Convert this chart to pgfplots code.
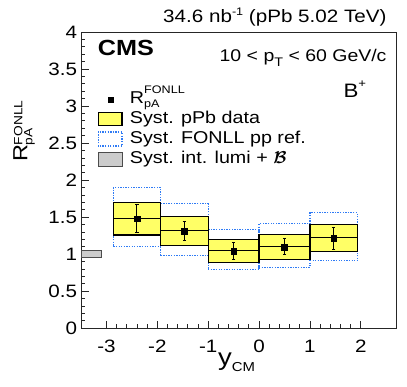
\documentclass[border=0pt]{standalone}
\usepackage{amsmath}
\usepackage{pgfplots}
\pgfplotsset{compat=1.18}
\usepackage{pgfplotstable}
\usepackage{fontspec}
\setmainfont{Liberation Sans}[FakeStretch=1.15]
\newfontfamily\lsans{Liberation Sans}[FakeStretch=1.15]
\definecolor{boxyellow}{HTML}{FFFF66}
\definecolor{fonllblue}{HTML}{2F7BF5}
\definecolor{lumigrey}{HTML}{CCCCCC}
\newcommand{\fs}[1]{\lsans\fontsize{#1}{#1}\selectfont}

% R_pA^FONLL per y_CM bin: centre, value, half width, stat +/-
\pgfplotstableread{
x       y      ex      eyp    eym
-2.4    1.48   0.465   0.19   0.18
-1.4675 1.315  0.4675  0.125  0.135
-0.5    1.045  0.5     0.112  0.115
0.5     1.10   0.5     0.107  0.105
1.4675  1.22   0.4675  0.14   0.15
}\rpa

\begin{document}
\begin{tikzpicture}[x=1bp,y=1bp]
\path[use as bounding box] (0,0) rectangle (407,387);
\begin{axis}[
  at={(81bp,58.7bp)}, anchor=south west,
  scale only axis, width=315.4bp, height=296.3bp,
  xmin=-3.5, xmax=2.7, ymin=0, ymax=4,
  xtick={-3,-2,-1,0,1,2}, ytick={0,0.5,...,4},
  minor x tick num=4, minor y tick num=4,
  tick align=inside, xtick pos=bottom, ytick pos=left,
  major tick length=7.5bp, minor tick length=3.8bp,
  axis line style={line width=0.8bp, black!85},
  tick style={line width=0.8bp, black!85},
  /pgf/number format/assume math mode=true,
  ticklabel style={font=\fs{18}, inner sep=0pt},
  yticklabel style={xshift=-3.7bp},
  xticklabel style={yshift=-11.2bp},
  legend style={at={(0.0529,0.801)}, anchor=north west, draw=none, fill=none,
    inner sep=0pt, outer sep=0pt, row sep=0pt, column sep=7.3bp,
    font=\fs{17.2}, cells={anchor=base west},
    nodes={inner sep=0pt, text height=13bp, text depth=6.8bp, font=\fs{17.2}}},
]
% FONLL pp reference systematics
\addplot[forget plot, fonllblue, line width=1.2bp, dash pattern=on 1.3bp off 1.3bp]
  coordinates {(-2.865,1.10) (-1.935,1.10) (-1.935,1.90) (-2.865,1.90)} -- cycle;
\addplot[forget plot, fonllblue, line width=1.2bp, dash pattern=on 1.3bp off 1.3bp]
  coordinates {(-1.935,0.98) (-1.0,0.98) (-1.0,1.68) (-1.935,1.68)} -- cycle;
\addplot[forget plot, fonllblue, line width=1.2bp, dash pattern=on 1.3bp off 1.3bp]
  coordinates {(-1.0,0.79) (0,0.79) (0,1.33) (-1.0,1.33)} -- cycle;
\addplot[forget plot, fonllblue, line width=1.2bp, dash pattern=on 1.3bp off 1.3bp]
  coordinates {(0,0.82) (1.0,0.82) (1.0,1.41) (0,1.41)} -- cycle;
\addplot[forget plot, fonllblue, line width=1.2bp, dash pattern=on 1.3bp off 1.3bp]
  coordinates {(1.0,0.91) (1.935,0.91) (1.935,1.56) (1.0,1.56)} -- cycle;
% pPb data systematics
\addplot[forget plot, draw=black, fill=boxyellow, line width=1.2bp]
  coordinates {(-2.865,1.26) (-1.935,1.26) (-1.935,1.70) (-2.865,1.70)} -- cycle;
\addplot[forget plot, draw=black, fill=boxyellow, line width=1.2bp]
  coordinates {(-1.935,1.12) (-1.0,1.12) (-1.0,1.51) (-1.935,1.51)} -- cycle;
\addplot[forget plot, draw=black, fill=boxyellow, line width=1.2bp]
  coordinates {(-1.0,0.89) (0,0.89) (0,1.20) (-1.0,1.20)} -- cycle;
\addplot[forget plot, draw=black, fill=boxyellow, line width=1.2bp]
  coordinates {(0,0.93) (1.0,0.93) (1.0,1.265) (0,1.265)} -- cycle;
\addplot[forget plot, draw=black, fill=boxyellow, line width=1.2bp]
  coordinates {(1.0,1.035) (1.935,1.035) (1.935,1.40) (1.0,1.40)} -- cycle;
% luminosity + branching fraction
\addplot[forget plot, draw=black!70, fill=lumigrey, line width=0.8bp]
  coordinates {(-3.5,0.953) (-3.1,0.953) (-3.1,1.047) (-3.5,1.047)} -- cycle;
% points with stat. errors
\addplot[forget plot, only marks, mark=square*, mark size=2.9bp, black,
  error bars/.cd, x dir=both, x explicit, y dir=both, y explicit,
  error bar style={line width=1bp, black},
  error mark options={rotate=90, black, mark size=1.7bp, line width=1bp}]
  table[x=x, y=y, x error=ex, y error plus=eyp, y error minus=eym] {\rpa};

\addlegendimage{legend image code/.code={\path[draw=none, fill=none] (0,-2bp) rectangle (25bp,11bp);
  \fill[black] (10.1bp,1.5bp) rectangle (15.4bp,6.8bp);}}
\addlegendentry{R\rlap{\raisebox{10bp}{\fs{11}FONLL}}\raisebox{-4bp}{\fs{11}pA}}
\addlegendimage{legend image code/.code={\draw[black, fill=boxyellow, line width=1.2bp]
  (0.6bp,-1.7bp) rectangle (24.4bp,11bp);}}
\addlegendentry{Syst. pPb data}
\addlegendimage{legend image code/.code={\draw[fonllblue, line width=1.2bp,
  dash pattern=on 1.3bp off 1.3bp] (0.6bp,-2.4bp) rectangle (24.4bp,11.6bp);}}
\addlegendentry{Syst. FONLL pp ref.}
\addlegendimage{legend image code/.code={\draw[black!70, fill=lumigrey, line width=0.8bp]
  (0.6bp,-2.7bp) rectangle (24.4bp,10.6bp);}}
\addlegendentry{Syst. int. lumi + $\boldsymbol{\mathcal{B}}$}
\end{axis}

\node[anchor=base east, inner sep=0pt, font=\fs{18}] at (386.7,364.3)
  {34.6 nb\raisebox{7bp}{\fs{11}-1} (pPb 5.02 TeV)};
\node[anchor=base west, inner sep=0pt, font=\fs{22}\bfseries] at (97.7,332) {CMS};
\node[anchor=base east, inner sep=0pt, font=\fs{17}] at (386.7,325.3)
  {10 < p\raisebox{-4.5bp}{\fs{12.5}T} < 60 GeV/c};
\node[anchor=base west, inner sep=0pt, font=\fs{19.5}] at (343.3,289.7)
  {B\raisebox{9.5bp}{\fs{11.5}+}};
\node[rotate=90, anchor=base east, inner sep=0pt, font=\fs{20.5}] at (27.3,259)
  {R\rlap{\raisebox{5bp}{\fs{12}FONLL}}\raisebox{-5bp}{\fs{12}pA}};
\node[anchor=base west, inner sep=0pt, font=\fs{24}] at (218,21.5)
  {y\raisebox{-6bp}{\fs{13}CM}};
\end{tikzpicture}
\end{document}
